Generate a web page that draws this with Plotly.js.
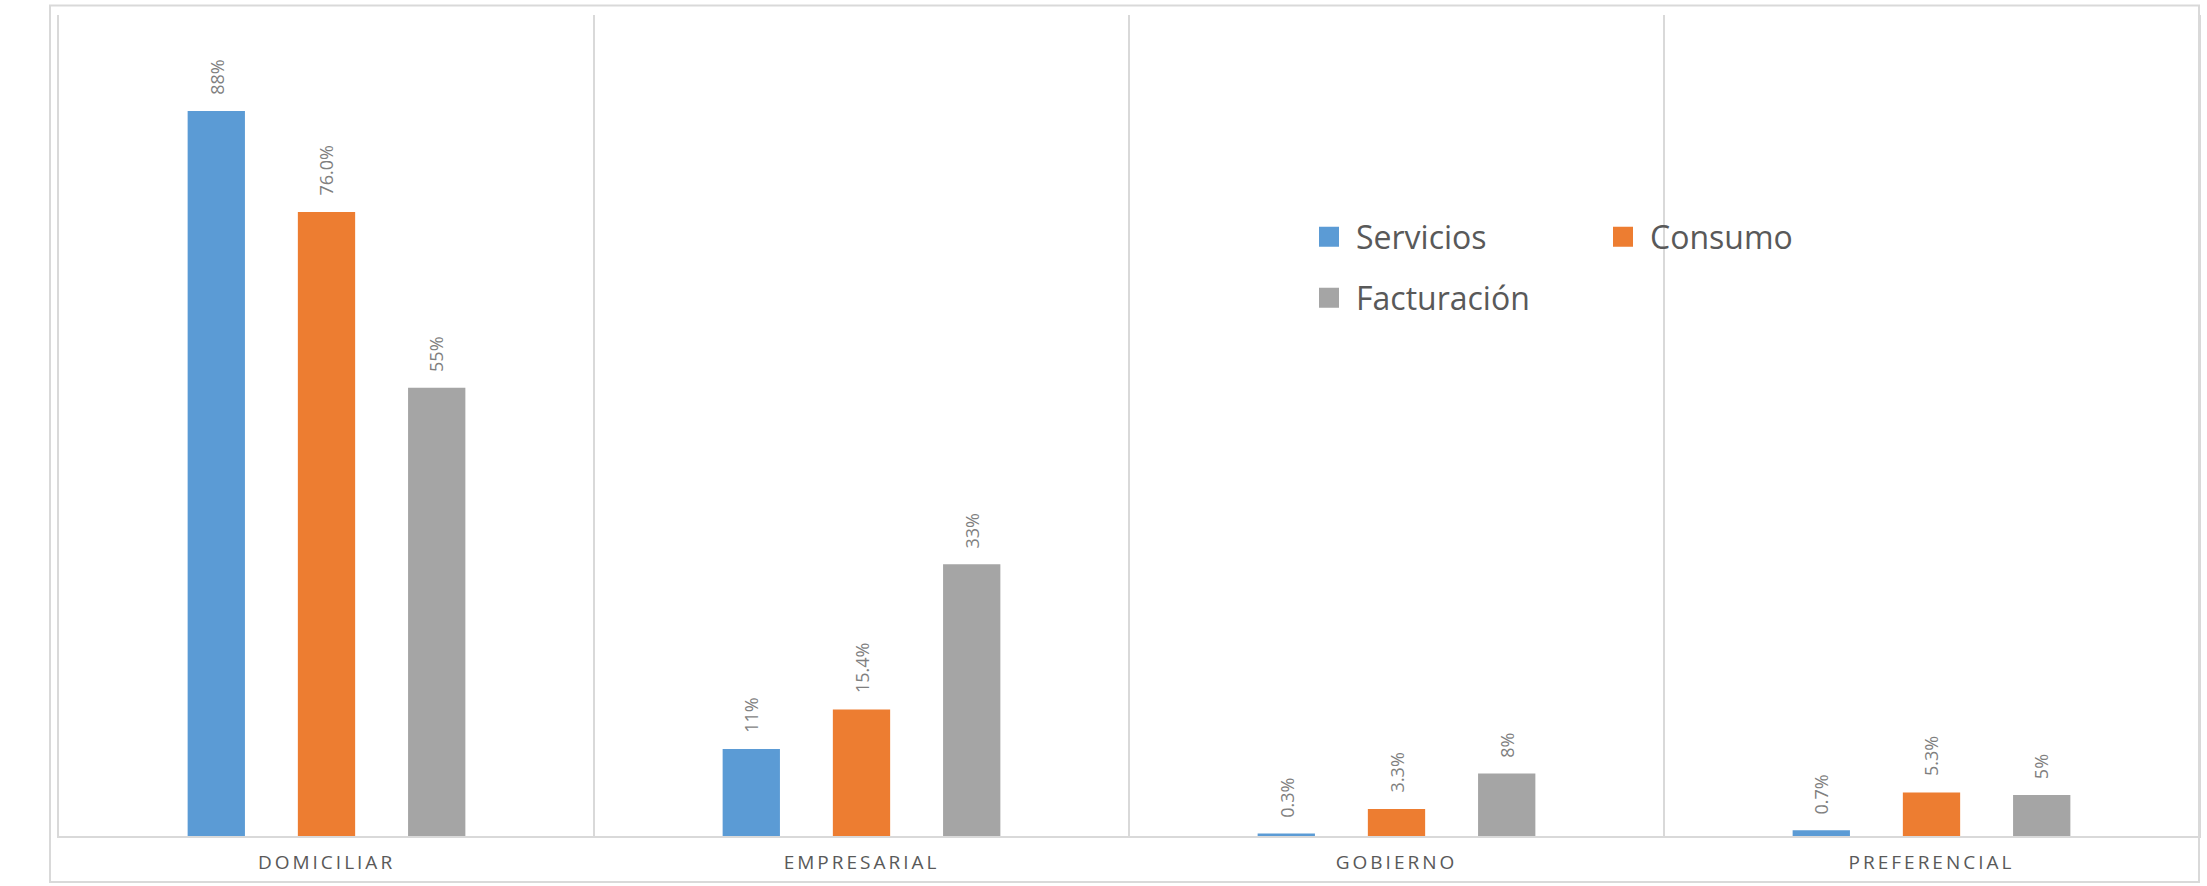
<!DOCTYPE html>
<html><head><meta charset="utf-8">
<script src="https://cdn.plot.ly/plotly-3.0.1.min.js"></script>
<style>
html,body{margin:0;padding:0;background:#fff;}
#chart{width:2207px;height:886px;}
.xtick text{letter-spacing:3px;}
</style>
</head><body><div id="chart"></div>
<script>
// ---- data ----
const categories = ['DOMICILIAR', 'EMPRESARIAL', 'GOBIERNO', 'PREFERENCIAL'];
const seriesNames = ['Servicios', 'Consumo', 'Facturación'];
const servicios = [88.3, 10.6, 0.3, 0.7];
const consumo = [76.0, 15.4, 3.3, 5.3];
const facturacion = [54.6, 33.1, 7.6, 5.0];
const serviciosLabels = ['88%', '11%', '0.3%', '0.7%'];
const consumoLabels = ['76.0%', '15.4%', '3.3%', '5.3%'];
const facturacionLabels = ['55%', '33%', '8%', '5%'];

// ---- styles ----
const colors = ['#5b9bd5', '#ed7d31', '#a5a5a5'];
const values = [servicios, consumo, facturacion];
const labels = [serviciosLabels, consumoLabels, facturacionLabels];
const legendIds = ['legend', 'legend2', 'legend3'];
const bargap = 0.382, bargroupgap = 0.48;
const W = 2207, H = 886;
const M = {l: 59, r: 8, t: 15, b: 50};
const PW = W - M.l - M.r, PH = H - M.t - M.b;
const px = v => (v - M.l) / PW;
const py = v => (H - M.b - v) / PH;

const traces = seriesNames.map((name, j) => ({
  type: 'bar', name: name, x: categories, y: values[j],
  marker: {color: colors[j]}, legend: legendIds[j],
  hoverinfo: 'skip'
}));

const slot = (1 - bargap) / seriesNames.length;
const annotations = [];
seriesNames.forEach((name, j) => {
  categories.forEach((c, i) => {
    annotations.push({
      xref: 'x', yref: 'y', x: i + (j - (seriesNames.length - 1) / 2) * slot, y: values[j][i],
      text: labels[j][i], showarrow: false, textangle: -90,
      xanchor: 'center', yanchor: 'bottom', yshift: 14,
      font: {family: 'Open Sans', size: 18, color: '#7f7f7f'}
    });
  });
});

const legendFont = {family: 'Open Sans', size: 32, color: '#595959'};
const legendBase = {xanchor: 'left', yanchor: 'middle', bgcolor: 'rgba(0,0,0,0)', borderwidth: 0, font: legendFont};

const layout = {
  width: W, height: H,
  margin: M,
  paper_bgcolor: '#fff', plot_bgcolor: '#fff',
  barmode: 'group', bargap: bargap, bargroupgap: bargroupgap,
  showlegend: true,
  legend: Object.assign({x: px(1316), y: py(237)}, legendBase),
  legend2: Object.assign({x: px(1610), y: py(237)}, legendBase),
  legend3: Object.assign({x: px(1316), y: py(298)}, legendBase),
  xaxis: {
    type: 'category', tickson: 'boundaries', showgrid: true, gridcolor: '#d9d9d9', gridwidth: 2,
    showline: true, linecolor: '#d9d9d9', linewidth: 2, ticks: '', zeroline: false,
    tickfont: {family: 'Open Sans', size: 19, color: '#595959'}, ticklabelstandoff: 8
  },
  yaxis: {
    range: [0, 100], showgrid: false, zeroline: false, showticklabels: false, ticks: '',
    showline: true, mirror: true, linecolor: '#d9d9d9', linewidth: 2
  },
  shapes: [{
    type: 'rect', xref: 'paper', yref: 'paper',
    x0: px(50), x1: px(2199), y0: py(882), y1: py(5.5),
    line: {color: '#d9d9d9', width: 2}, fillcolor: 'rgba(0,0,0,0)', layer: 'below'
  }],
  annotations: annotations
};

Plotly.newPlot('chart', traces, layout, {displayModeBar: false, staticPlot: true}).then(gd => {
  // enlarge the legend swatches to match the reference's larger squares
  gd.querySelectorAll('.legendpoints path').forEach(p => {
    p.setAttribute('d', 'M3,10H-17V-10H3Z');
  });
});
</script>
</body></html>
